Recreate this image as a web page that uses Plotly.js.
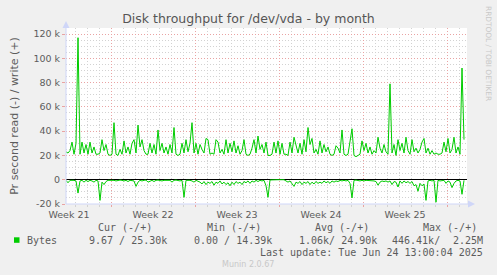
<!DOCTYPE html>
<html>
<head>
<meta charset="utf-8">
<script src="https://cdn.plot.ly/plotly-3.0.1.min.js"></script>
<style>html,body{margin:0;padding:0;background:#F0F0F0;}#chart{width:497px;height:275px;}</style>
</head>
<body>
<div id="chart"></div>
<script>
// ---- data (kB/s), one sample every 4 hours starting 2025-05-22 06:00 ----
const seriesStart = Date.UTC(2025, 4, 22, 6, 0, 0);
const stepHours = 4;
const writeK = [
23,22,24,31,21,30,117,21,31,22,29,21,31,22,27,21,21,22,33,24,
29,21,20,21,47,21,20,25,21,32,22,27,21,30,33,22,45,27,33,24,
21,21,30,22,29,21,41,24,30,22,27,21,29,22,43,21,20,21,30,22,
33,23,30,47,22,30,21,29,25,22,34,33,21,22,21,33,31,22,25,21,
33,22,30,23,32,22,28,21,24,33,21,20,21,26,33,22,36,25,29,22,
31,20,20,21,31,22,32,21,30,21,21,20,31,22,35,27,22,30,21,33,
23,43,29,34,22,25,21,32,22,29,23,27,21,20,21,28,26,22,41,21,
20,21,30,42,20,19,20,21,32,24,30,22,27,21,24,22,35,26,22,29,
23,21,79,22,29,20,33,24,30,22,35,24,21,33,23,26,22,25,31,34,
22,26,21,24,21,22,21,21,22,31,23,34,22,25,35,22,27,21,92,33
];
const readK = [
-0.5,-2.5,-0.5,-0.3,-0.5,-1,-11,-1,-0.5,-2,-0.5,-1.5,-0.5,-1,-2,-0.5,-1,-17,-2,-4,
-1.5,-0.5,-0.3,-0.5,-0.5,-1,-0.5,-0.3,-0.5,-1,-0.5,-1.5,-0.5,-0.5,-1,-5.5,-2,-0.5,-1,-0.5,
-0.3,-2,-1,-0.5,-1.5,-0.5,-0.3,-0.5,-1,-0.5,-0.5,-1,-0.5,-2,-0.5,-0.3,-0.5,-1,-0.5,-14.5,
-0.5,-0.3,-0.5,-1,-2,-0.5,-1,-2,-3.5,-1.5,-4,-2,-3,-1.5,-4.5,-2,-3,-1,-3.5,-2,
-4,-2.5,-5,-2,-4,-1.5,-3,-2,-4,-1.5,-2.5,-1,-3,-1,-2,-0.5,-1.5,-0.5,-1,-0.5,
-5,-14.5,-0.2,0,0,0,0,0,0,0,-1,-2,-1,-3,-5.5,-2,-3,-1.5,-4,-2,
-3,-1.5,-4,-2,-3.5,-1.5,-3,-2,-3,-1,-2.5,-1.5,-3,-1,-2,-1,-1.5,-0.5,-1,-0.5,
-1,-0.5,-3,-15,-0.5,-0.3,-0.5,-1,-0.5,-1,-0.5,-0.5,-1,-0.5,-1,-1.5,-4.5,-2,-1,-1.5,
-1,-2,-1,-4,-1.5,-2,-6,-1,-3,-1,-2.5,-1.5,-3,-1.5,-5,-4,-9.5,-3,-5,-3.5,
-17,-1,-0.5,-1,-0.5,-18.5,-0.5,-1,-0.5,-0.5,-3,-1,-2,-6.5,-3,-1,-0.5,-1,-12,-0.5
];
const yTickVals = [-20, 0, 20, 40, 60, 80, 100, 120];
const yTickText = ['-20 k', '0', '20 k', '40 k', '60 k', '80 k', '100 k', '120 k'];
const legendHeaders = ['Cur (-/+)', 'Min (-/+)', 'Avg (-/+)', 'Max (-/+)'];
const legendValues = ['9.67 / 25.30k', '0.00 / 14.39k', '1.06k/ 24.90k', '446.41k/', '2.25M'];
const seriesName = 'Bytes';
const lastUpdate = 'Last update: Tue Jun 24 13:00:04 2025';

function ts(i) {
  return new Date(seriesStart + i * stepHours * 3600e3).toISOString().slice(0, 19).replace('T', ' ');
}
const times = writeK.map((_, i) => ts(i));

// ---- layout helpers (pixel -> paper) ----
const W = 497, H = 275, L = 66, R = 30, T = 28, B = 71;
const PW = W - L - R, PH = H - T - B;
const px = x => (x - L) / PW;
const py = y => (H - B - y) / PH;

const green = '#00CC00';
const fontCol = '#5c5c5c';
const mono = 'DejaVu Sans Mono, monospace';
const sans = 'DejaVu Sans, sans-serif';

const traces = [
  {x: times, y: writeK, type: 'scatter', mode: 'lines', line: {color: green, width: 1}, hoverinfo: 'skip', showlegend: false},
  {x: times, y: readK, type: 'scatter', mode: 'lines', line: {color: green, width: 1}, hoverinfo: 'skip', showlegend: false}
];

const ann = [];
function txt(t, x, y, opts) {
  ann.push(Object.assign({text: t, xref: 'paper', yref: 'paper', x: px(x), y: py(y), showarrow: false,
    xanchor: 'left', yanchor: 'middle', borderpad: 0, borderwidth: 0,
    font: {family: mono, size: 10, color: fontCol}}, opts || {}));
}
const hdrX = [98, 207, 315, 423];
legendHeaders.forEach((h, i) => txt(h, hdrX[i], 227));
txt(seriesName, 27, 240);
const valX = [89, 194, 299, 392];
legendValues.slice(0, 4).forEach((v, i) => txt(v, valX[i], 240));
txt(legendValues[4], 483, 240, {xanchor: 'right'});
txt(lastUpdate, 483, 252, {xanchor: 'right'});
txt('Munin 2.0.67', 248, 264, {xanchor: 'center', font: {family: sans, size: 8, color: '#c8c8c8'}});
txt('RRDTOOL / TOBI OETIKER', 489, 54, {xanchor: 'center', textangle: 90, font: {family: sans, size: 7.4, color: '#c8c8c8'}});

const axisCol = '#CFD6F8';
const shapes = [
  {type: 'line', xref: 'paper', yref: 'paper', x0: px(66), x1: px(66), y0: py(204), y1: py(25), line: {color: axisCol, width: 1}},
  {type: 'path', xref: 'paper', yref: 'paper', path: `M ${px(66)} ${py(21)} L ${px(62.5)} ${py(28)} L ${px(69.5)} ${py(28)} Z`, fillcolor: axisCol, line: {width: 0}},
  {type: 'line', xref: 'paper', yref: 'paper', x0: px(66), x1: px(471), y0: py(204), y1: py(204), line: {color: axisCol, width: 1}},
  {type: 'path', xref: 'paper', yref: 'paper', path: `M ${px(475)} ${py(204)} L ${px(468)} ${py(200.5)} L ${px(468)} ${py(207.5)} Z`, fillcolor: axisCol, line: {width: 0}},
  {type: 'rect', xref: 'paper', yref: 'paper', x0: px(14), x1: px(19.5), y0: py(237.3), y1: py(242.8), fillcolor: green, line: {width: 0}}
];

const majorGrid = '#e9a3a3';
const minorGrid = '#d2d2d2';
const layout = {
  width: W, height: H,
  margin: {l: L, r: R, t: T, b: B, pad: 0},
  paper_bgcolor: '#F0F0F0', plot_bgcolor: '#FFFFFF',
  showlegend: false,
  title: {text: 'Disk throughput for /dev/vda - by month', xref: 'container', x: 0.5, xanchor: 'center',
          yref: 'container', y: 1 - 19 / H, yanchor: 'middle', font: {family: sans, size: 12.5, color: '#555555'}},
  xaxis: {
    type: 'date', range: ['2025-05-22 06:00', '2025-06-24 16:00'],
    tick0: '2025-05-26', dtick: 7 * 86400000, ticklabelmode: 'period', tickformat: 'Week %V',
    showgrid: true, gridcolor: majorGrid, griddash: '1px,2px', gridwidth: 1,
    ticks: 'outside', ticklen: 2, tickcolor: majorGrid, showline: false, zeroline: false,
    tickfont: {family: sans, size: 9.5, color: fontCol},
    minor: {dtick: 86400000, tick0: '2025-05-26', showgrid: true, gridcolor: minorGrid, griddash: '1px,2px',
            ticks: 'outside', ticklen: 2, tickcolor: minorGrid},
    fixedrange: true
  },
  yaxis: {
    range: [-20, 125], tickmode: 'array', tickvals: yTickVals, ticktext: yTickText,
    showgrid: true, gridcolor: majorGrid, griddash: '1px,2px', gridwidth: 1,
    ticks: 'outside', ticklen: 3, tickcolor: majorGrid, showline: false,
    zeroline: true, zerolinecolor: '#000000', zerolinewidth: 1,
    tickfont: {family: sans, size: 9.5, color: fontCol},
    minor: {dtick: 5, showgrid: true, gridcolor: minorGrid, griddash: '1px,2px'},
    title: {text: 'Pr second read (-) / write (+)', font: {family: sans, size: 11, color: fontCol}, standoff: 12},
    fixedrange: true
  },
  annotations: ann,
  shapes: shapes
};

Plotly.newPlot('chart', traces, layout, {staticPlot: true, displayModeBar: false});
</script>
</body>
</html>
